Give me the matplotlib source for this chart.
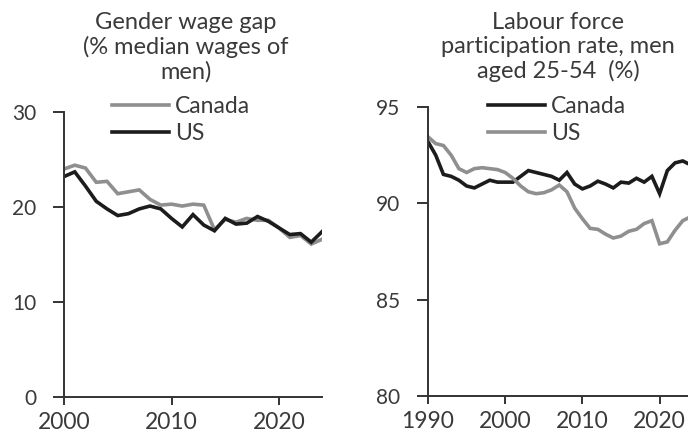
import matplotlib.pyplot as plt

# fuente parecida a la del original
plt.rcParams['font.family'] = ['Lato', 'DejaVu Sans']
plt.rcParams['text.color'] = '#3a3a3a'

# Brecha salarial de género (% del salario mediano de los hombres)
gap_years = list(range(2000, 2025))
gap_canada = [24.0, 24.4, 24.1, 22.6, 22.7, 21.4, 21.6, 21.8, 20.8, 20.2, 20.3, 20.1, 20.3, 20.2,
              17.6, 18.7, 18.4, 18.8, 18.6, 18.6, 17.8, 16.8, 17.0, 16.1, 16.6]
gap_us = [23.2, 23.7, 22.2, 20.6, 19.8, 19.1, 19.3, 19.8, 20.1, 19.8, 18.8, 17.9, 19.2, 18.1,
          17.5, 18.8, 18.2, 18.3, 19.0, 18.5, 17.8, 17.1, 17.2, 16.3, 17.4]

# Tasa de participación laboral, hombres de 25-54 años (%)
lf_years = list(range(1990, 2025))
lf_canada = [93.2, 92.5, 91.5, 91.4, 91.2, 90.9, 90.8, 91.0, 91.2, 91.1, 91.1, 91.1, 91.4, 91.7,
             91.6, 91.5, 91.4, 91.2, 91.6, 91.0, 90.75, 90.9, 91.15, 91.0, 90.8, 91.1, 91.05,
             91.3, 91.1, 91.4, 90.5, 91.7, 92.1, 92.2, 92.0]
lf_us = [93.45, 93.1, 93.0, 92.5, 91.8, 91.6, 91.8, 91.85, 91.8, 91.75, 91.6, 91.3, 90.9, 90.6,
         90.5, 90.55, 90.7, 90.95, 90.6, 89.75, 89.2, 88.7, 88.65, 88.4, 88.2, 88.3, 88.55,
         88.65, 88.95, 89.1, 87.9, 88.0, 88.6, 89.1, 89.3]

gray = '#8f8f8f'
black = '#1c1c1c'
W, H = 688, 436

fig = plt.figure(figsize=(W / 100, H / 100), dpi=100)
ax1 = fig.add_axes([64 / W, 1 - 397 / H, (322 - 64) / W, (397 - 112) / H])
ax2 = fig.add_axes([428 / W, 1 - 396 / H, (690.5 - 428) / W, (396 - 107) / H])

ax1.plot(gap_years, gap_canada, color=gray, lw=2.6, label='Canada', solid_joinstyle='miter')
ax1.plot(gap_years, gap_us, color=black, lw=2.6, label='US', solid_joinstyle='miter')
ax1.set_xlim(2000, 2024)
ax1.set_ylim(0, 30)
ax1.set_xticks([2000, 2010, 2020])
ax1.set_yticks([0, 10, 20, 30])

ax2.plot(lf_years, lf_canada, color=black, lw=2.6, label='Canada', solid_joinstyle='miter')
ax2.plot(lf_years, lf_us, color=gray, lw=2.6, label='US', solid_joinstyle='miter')
ax2.set_xlim(1990, 2024)
ax2.set_ylim(80, 95)
ax2.set_xticks([1990, 2000, 2010, 2020])
ax2.set_yticks([80, 85, 90, 95])

for ax in (ax1, ax2):
    for s in ('top', 'right'):
        ax.spines[s].set_visible(False)
    for s in ('left', 'bottom'):
        ax.spines[s].set_color('#333333')
        ax.spines[s].set_linewidth(1.4)
    ax.tick_params(axis='y', length=8, width=1.4, color='#333333', pad=12,
                   labelsize=15, labelcolor='#3a3a3a')
    ax.tick_params(axis='x', length=6, width=1.4, color='#333333', pad=5,
                   labelsize=16.5, labelcolor='#3a3a3a')

fig.text(186 / W, 1 - 12 / H, 'Gender wage gap\n(% median wages of\nmen)', ha='center', va='top',
         fontsize=17, linespacing=1.18)
fig.text(558 / W, 1 - 12 / H, 'Labour force\nparticipation rate, men\naged 25-54  (%)',
         ha='center', va='top', fontsize=17, linespacing=1.18)

for ax, x0 in ((ax1, 112), (ax2, 488)):
    ax.legend(loc='upper left', bbox_to_anchor=(x0 / W, 1 - 96 / H), bbox_transform=fig.transFigure,
              frameon=False, fontsize=16.5, handlelength=2.5, handletextpad=0.25,
              labelspacing=0.25, borderpad=0, borderaxespad=0, labelcolor='#3a3a3a')

fig.savefig('out.png', dpi=100)
